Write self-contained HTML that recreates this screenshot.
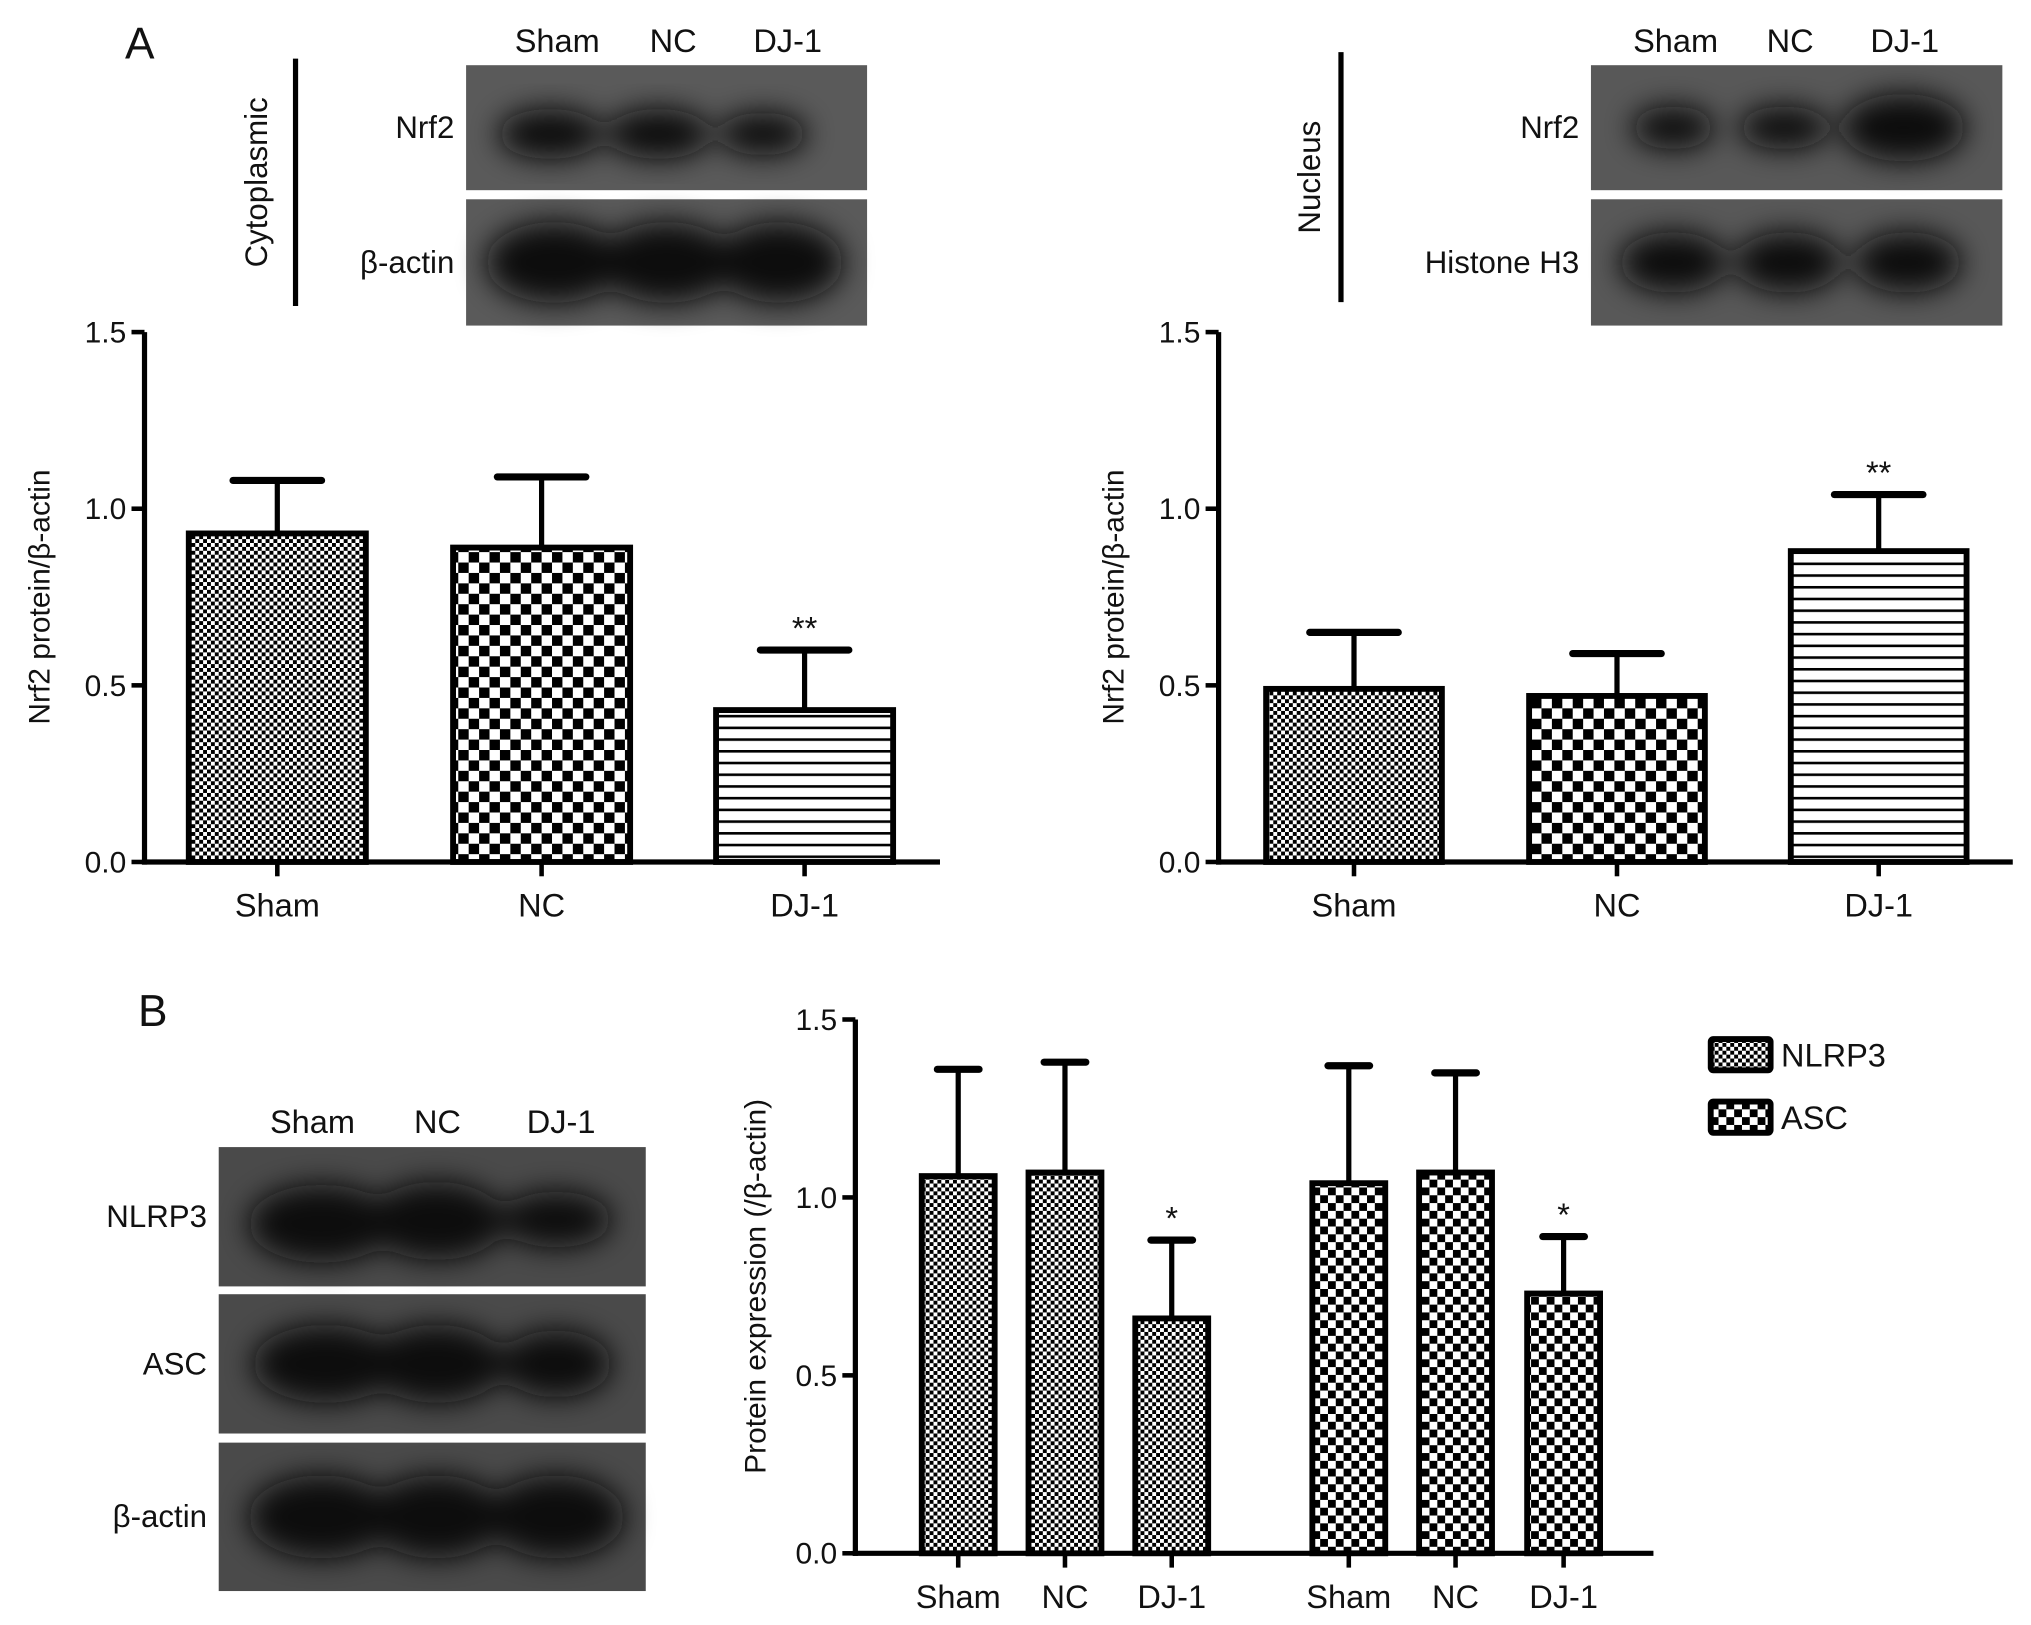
<!DOCTYPE html>
<html><head><meta charset="utf-8"><style>
html,body{margin:0;padding:0;background:#fff}
svg{display:block;font-family:"Liberation Sans",Arial,sans-serif}
</style></head><body>
<svg id="fig" width="2031" height="1625" viewBox="0 0 1560 1248" xmlns="http://www.w3.org/2000/svg">
<defs>
<pattern id="pFine" width="6" height="6" patternUnits="userSpaceOnUse"><rect width="6" height="6" fill="#fff"/><rect width="3" height="3" fill="#000"/><rect x="3" y="3" width="3" height="3" fill="#000"/></pattern>
<pattern id="pCheck" width="16" height="16" patternUnits="userSpaceOnUse"><rect width="16" height="16" fill="#fff"/><rect width="8" height="8" fill="#000"/><rect x="8" y="8" width="8" height="8" fill="#000"/></pattern>
<pattern id="pCheckB" width="12" height="12" patternUnits="userSpaceOnUse"><rect width="12" height="12" fill="#fff"/><rect width="6" height="6" fill="#000"/><rect x="6" y="6" width="6" height="6" fill="#000"/></pattern>
<pattern id="pLines" width="10" height="9" patternUnits="userSpaceOnUse"><rect width="10" height="9" fill="#fff"/><rect y="0" width="10" height="2" fill="#000"/></pattern>
<filter id="blur" x="-50%" y="-50%" width="200%" height="200%"><feGaussianBlur stdDeviation="11"/></filter>
</defs>
<g id="root"></g>
</svg>
<script>
// ===== data =====
const catsA = ["Sham","NC","DJ-1"];
const cytoVals = [0.93, 0.89, 0.43];
const cytoErr = [1.08, 1.09, 0.60];
const cytoSig = ["", "", "**"];
const nucVals = [0.49, 0.47, 0.88];
const nucErr = [0.65, 0.59, 1.04];
const nucSig = ["", "", "**"];
const catsB = ["Sham","NC","DJ-1","Sham","NC","DJ-1"];
const nlrpVals = [1.06, 1.07, 0.66];
const nlrpErr = [1.36, 1.38, 0.88];
const ascVals = [1.04, 1.07, 0.73];
const ascErr = [1.37, 1.35, 0.89];
const sigB = ["", "", "*", "", "", "*"];
const yTicks = [0.0, 0.5, 1.0, 1.5];
const tickLabels = ["0.0","0.5","1.0","1.5"];
const legendItems = ["NLRP3","ASC"];

const NS="http://www.w3.org/2000/svg";
const root=document.getElementById('root');
function mk(tag,attrs,parent,text){const e=document.createElementNS(NS,tag);for(const k in attrs)e.setAttribute(k,attrs[k]);if(text!==undefined)e.textContent=text;(parent||root).appendChild(e);return e;}

function chart(opt){
  const g=mk('g',{});
  
  
  const y=v=>opt.y0-(v/1.5)*(opt.y0-opt.y1);
  const ax=mk('line',{x1:opt.ax,y1:opt.y1,x2:opt.ax,y2:opt.y0+2,stroke:'#000','stroke-width':4},g);
  
  
  const bx=mk('line',{x1:opt.ax-2,y1:opt.y0,x2:opt.xEnd,y2:opt.y0,stroke:'#000','stroke-width':4},g);
  
  
  yTicks.forEach((t,i)=>{
    mk('line',{x1:opt.ax-10,y1:y(t),x2:opt.ax,y2:y(t),stroke:'#000','stroke-width':3.5},g);
    const tl=mk('text',{x:opt.ax-14,y:y(t)+8,'text-anchor':'end','font-size':23,fill:'#111'},g,tickLabels[i]);
    
    
  });
  const yt=mk('text',{transform:`translate(${opt.titleX},${(opt.y0+opt.y1)/2}) rotate(-90)`,'text-anchor':'middle','font-size':23,fill:'#111'},g,opt.title);
  
  
  opt.bars.forEach((b,i)=>{
    const top=y(b.v), et=y(b.e);
    mk('line',{x1:b.cx,y1:et,x2:b.cx,y2:top,stroke:'#000','stroke-width':4},g);
    mk('line',{x1:b.cx-b.cap,y1:et,x2:b.cx+b.cap,y2:et,stroke:'#000','stroke-width':5.5,'stroke-linecap':'round'},g);
    const r=mk('rect',{x:b.cx-b.w/2,y:top,width:b.w,height:opt.y0-top,fill:`url(#${b.pat})`,stroke:'#000','stroke-width':4.5},g);
    
    
    mk('line',{x1:b.cx,y1:opt.y0,x2:b.cx,y2:opt.y0+11,stroke:'#000','stroke-width':3.5},g);
    const xl=mk('text',{x:b.cx,y:opt.y0+42,'text-anchor':'middle','font-size':25,fill:'#111'},g,b.label);
    
    
    if(b.sig){const s=mk('text',{x:b.cx,y:et-8,'text-anchor':'middle','font-size':25,fill:'#111'},g,b.sig);
      
      }
  });
}
const patA=['pFine','pCheck','pLines'];
const cxA=[213,416,618], cxA2=[1040,1242,1443];
chart({name:'cytoplasmic-chart',ax:111,y0:662,y1:255,xEnd:722,titleX:38,title:'Nrf2 protein/β-actin',
  bars:catsA.map((c,i)=>({label:c,v:cytoVals[i],e:cytoErr[i],sig:cytoSig[i],cx:cxA[i],w:136,cap:34,pat:patA[i]}))});
chart({name:'nucleus-chart',ax:936,y0:662,y1:255,xEnd:1546,titleX:863,title:'Nrf2 protein/β-actin',
  bars:catsA.map((c,i)=>({label:c,v:nucVals[i],e:nucErr[i],sig:nucSig[i],cx:cxA2[i],w:135,cap:34,pat:patA[i]}))});
const cxB=[736,818,900,1036,1118,1201];
const valsB=nlrpVals.concat(ascVals), errB=nlrpErr.concat(ascErr);
chart({name:'inflammasome-chart',ax:657,y0:1193,y1:783,xEnd:1270,titleX:588,title:'Protein expression (/β-actin)',
  bars:catsB.map((c,i)=>({label:c,v:valsB[i],e:errB[i],sig:sigB[i],cx:cxB[i],w:56,cap:16,pat:i<3?'pFine':'pCheckB'}))});

// legend
legendItems.forEach((t,i)=>{
  const g=mk('g',{});
  
  
  mk('rect',{x:1314,y:798+i*48,width:46,height:24,fill:i?'url(#pCheckB)':'url(#pFine)',stroke:'#000','stroke-width':4.5,rx:2},g);
  mk('text',{x:1368,y:819+i*48,'font-size':25,fill:'#111'},g,t);
});

// blots
function blot(name,x,w,rows,bg,bands){
  rows.forEach((r,ri)=>{
    const g=mk('g',{});
    
    
    mk('rect',{x:x,y:r.y,width:w,height:r.h,fill:bg},g);
    const cl=mk('g',{filter:'url(#blur)'},g);
    bands[ri].forEach(b=>mk('ellipse',{cx:x+b[0]*w,cy:r.y+r.h*b[3],rx:b[1]*w,ry:b[2]*r.h,fill:'#0c0c0c'},cl));
    mk('text',{x:x-9,y:r.y+r.h/2+8,'text-anchor':'end','font-size':24,fill:'#111'},g,r.label);
  });
}
function colLabels(xs,y){xs.forEach((x,i)=>{const t=mk('text',{x:x,y:y,'text-anchor':'middle','font-size':25,fill:'#111'},root,catsA[i]);
  
  });}
blot('cyto-blot',358,308,[{label:'Nrf2',y:50,h:96},{label:'β-actin',y:153,h:97}],'#5a5a5a',
 [[[0.21,0.13,0.2,0.55],[0.48,0.13,0.2,0.55],[0.74,0.11,0.17,0.55]],[[0.22,0.17,0.32,0.5],[0.5,0.17,0.32,0.5],[0.78,0.16,0.32,0.5]]]);
colLabels([428,517,605],40);
blot('nuc-blot',1222,316,[{label:'Nrf2',y:50,h:96},{label:'Histone H3',y:153,h:97}],'#585858',
 [[[0.2,0.1,0.17,0.5],[0.47,0.11,0.17,0.5],[0.76,0.15,0.27,0.5]],[[0.2,0.13,0.24,0.5],[0.48,0.13,0.24,0.5],[0.77,0.13,0.24,0.5]]]);
colLabels([1287,1375,1463],40);
blot('b-blot',168,328,[{label:'NLRP3',y:881,h:107},{label:'ASC',y:994,h:107},{label:'β-actin',y:1108,h:114}],'#4a4a4a',
 [[[0.24,0.17,0.28,0.55],[0.51,0.16,0.28,0.53],[0.79,0.13,0.2,0.52]],[[0.25,0.17,0.28,0.5],[0.51,0.16,0.28,0.5],[0.79,0.13,0.24,0.5]],[[0.24,0.17,0.28,0.5],[0.51,0.16,0.28,0.5],[0.79,0.16,0.28,0.5]]]);
colLabels([240,336,431],870);

// side brackets
[[227,45,235,205,'Cytoplasmic'],[1030,40,232,1014,'Nucleus']].forEach(s=>{
  mk('line',{x1:s[0],y1:s[1],x2:s[0],y2:s[2],stroke:'#000','stroke-width':4});
  const t=mk('text',{transform:`translate(${s[3]},${(s[1]+s[2])/2}) rotate(-90)`,'text-anchor':'middle','font-size':24,fill:'#111'},root,s[4]);
  
  
});
[['A',96,45],['B',106,788]].forEach(p=>{const t=mk('text',{x:p[1],y:p[2],'font-size':34,fill:'#111'},root,p[0]);
  
  });
</script>
</body></html>
